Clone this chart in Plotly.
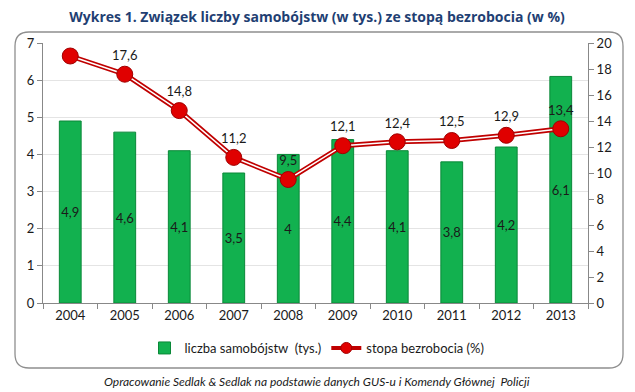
import plotly.graph_objects as go

years = ["2004", "2005", "2006", "2007", "2008", "2009", "2010", "2011", "2012", "2013"]
suicides = [4.9, 4.6, 4.1, 3.5, 4.0, 4.4, 4.1, 3.8, 4.2, 6.1]
unemployment = [19, 17.6, 14.8, 11.2, 9.5, 12.1, 12.4, 12.5, 12.9, 13.4]
left_ticks = [0, 1, 2, 3, 4, 5, 6, 7]
right_ticks = [0, 2, 4, 6, 8, 10, 12, 14, 16, 18, 20]

def pl(v):
    return ("%g" % v).replace(".", ",")

# page body has 8px default margin -> shrink figure and offset coordinates
O = 8
W, H = 635 - O, 392 - O
L, R, T, B = 43 - O, 47, 43 - O, 89
pw, ph = W - L - R, H - T - B

def px(x):
    return (x - O - L) / pw

def py(y):
    return (H - B - (y - O)) / ph

font = "Lato, Open Sans, sans-serif"

fig = go.Figure()
fig.add_trace(go.Bar(
    x=years, y=suicides, name="liczba samobójstw  (tys.)",
    marker=dict(color="#12B14F", line=dict(color="#0A8838", width=1)),
    text=[pl(v) for v in suicides], textposition="inside",
    insidetextanchor="middle", textangle=0, constraintext="none",
    textfont=dict(color="#1a1a1a", size=13, family=font),
    width=0.4,
))
fig.add_trace(go.Scatter(
    x=years, y=unemployment, yaxis="y2", mode="lines",
    line=dict(color="#C00000", width=5), showlegend=False, hoverinfo="skip",
))
fig.add_trace(go.Scatter(
    x=years, y=unemployment, yaxis="y2", mode="lines+markers+text",
    showlegend=False,
    line=dict(color="white", width=1.5),
    marker=dict(color="#E00000", size=16, line=dict(color="#A00000", width=1)),
    text=[pl(v) for v in unemployment], textposition="top center",
    textfont=dict(color="#1a1a1a", size=13, family=font),
))
fig.add_trace(go.Scatter(
    x=[None], y=[None], yaxis="y2", mode="lines+markers", name="stopa bezrobocia (%)",
    line=dict(color="#C00000", width=4),
    marker=dict(color="#E00000", size=11, line=dict(color="#A00000", width=1)),
))

# rounded chart border
x0, x1, y0, y1, r = px(15), px(623), py(32), py(368), 14
rx, ry = r / pw, r / ph
path = (f"M {x0+rx:.5f},{y0:.5f} L {x1-rx:.5f},{y0:.5f} Q {x1:.5f},{y0:.5f} {x1:.5f},{y0-ry:.5f} "
        f"L {x1:.5f},{y1+ry:.5f} Q {x1:.5f},{y1:.5f} {x1-rx:.5f},{y1:.5f} L {x0+rx:.5f},{y1:.5f} "
        f"Q {x0:.5f},{y1:.5f} {x0:.5f},{y1+ry:.5f} L {x0:.5f},{y0-ry:.5f} Q {x0:.5f},{y0:.5f} {x0+rx:.5f},{y0:.5f} Z")

fig.update_layout(
    width=W, height=H, margin=dict(l=L, r=R, t=T, b=B, autoexpand=False),
    paper_bgcolor="white", plot_bgcolor="rgba(0,0,0,0)",
    font=dict(family=font, size=13, color="#1a1a1a"),
    title=dict(text="<b>Wykres 1. Związek liczby samobójstw (w tys.) ze stopą bezrobocia (w %)</b>",
               x=px(317), xref="paper", xanchor="center", y=1 - (17 - O) / H, yanchor="middle",
               font=dict(size=14, color="#1F3F73", family="Open Sans, sans-serif")),
    xaxis=dict(range=[-0.5, 9.5], showline=True, linecolor="#888888", ticks="outside",
               tickson="boundaries", tickcolor="#888888", ticklen=5, showgrid=False,
               tickfont=dict(size=13)),
    yaxis=dict(range=[0, 7], tickvals=left_ticks, showline=True, linecolor="#888888",
               ticks="outside", tickcolor="#888888", ticklen=5, gridcolor="#E4E4E4",
               zeroline=False, tickfont=dict(size=13)),
    yaxis2=dict(range=[0, 20], tickvals=right_ticks, overlaying="y", side="right",
                showline=True, linecolor="#888888", ticks="outside", tickcolor="#888888",
                ticklen=5, showgrid=False, zeroline=False, tickfont=dict(size=13)),
    legend=dict(orientation="h", x=px(317), xanchor="center", y=py(348), yanchor="middle",
                font=dict(size=13), traceorder="normal", itemwidth=30),
    showlegend=True,
    shapes=[dict(type="path", path=path, xref="paper", yref="paper",
                 line=dict(color="#8E8E8E", width=1.3), layer="above")],
    annotations=[
        dict(text="<i>Opracowanie Sedlak &amp; Sedlak na podstawie danych GUS-u i Komendy Głównej  Policji</i>",
             x=px(317), y=py(381), xref="paper", yref="paper",
             showarrow=False, xanchor="center", yanchor="middle",
             font=dict(size=12, color="#1a1a1a"))],
)
fig.write_html("out.html")
